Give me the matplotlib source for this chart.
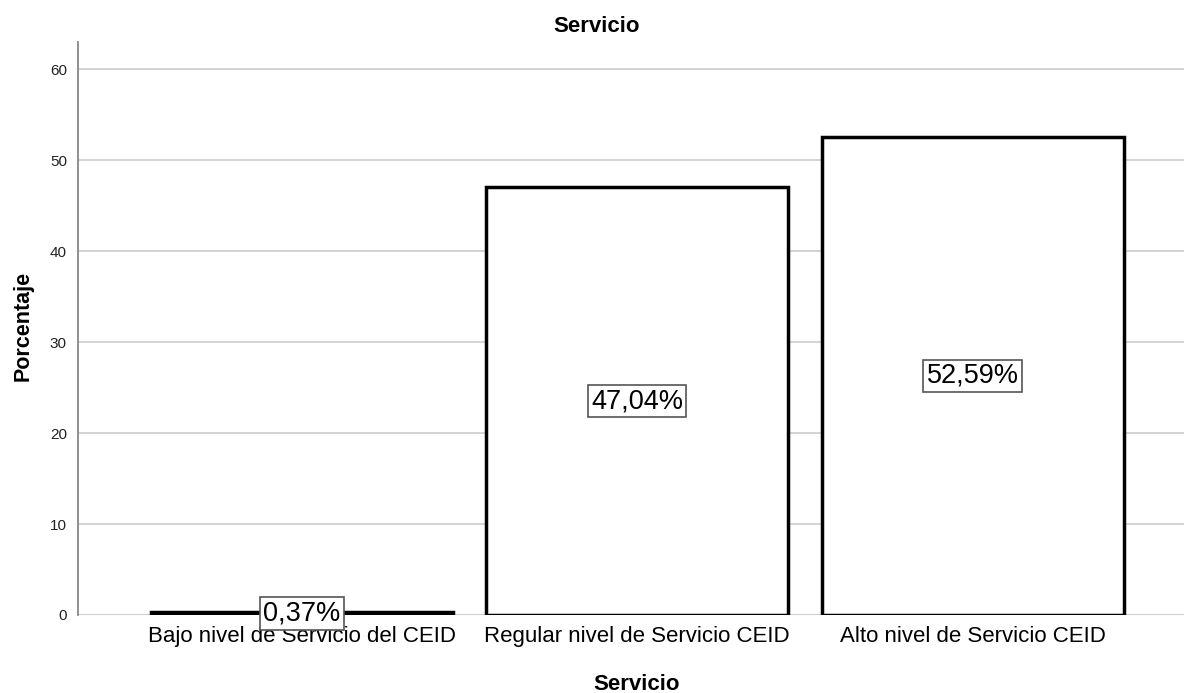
import numpy as np
import matplotlib.pyplot as plt

# Porcentajes por nivel de servicio
categorias = ['Bajo nivel de Servicio del CEID', 'Regular nivel de Servicio CEID', 'Alto nivel de Servicio CEID']
porcentajes = [0.37, 47.04, 52.59]
etiquetas = ['0,37%', '47,04%', '52,59%']

plt.rcParams['font.family'] = ['Liberation Sans', 'DejaVu Sans']

W, H = 1184, 693
fig = plt.figure(figsize=(W / 100, H / 100), dpi=100)
ax = fig.add_axes([78 / W, 1 - 615 / H, 1 - 78 / W, (615 - 42) / H])

x = np.arange(len(categorias))
ax.bar(x, porcentajes, width=0.9, facecolor='white', edgecolor='black', linewidth=2.5, zorder=3)

# Etiquetas de valor en el centro de cada barra
for xi, v, txt in zip(x, porcentajes, etiquetas):
    ax.text(xi, v / 2, txt, ha='center', va='center', fontsize=19.5, zorder=4,
            bbox=dict(boxstyle='square,pad=0.12', facecolor='white', edgecolor='#555555', linewidth=1.2))

ax.set_xlim(-0.667, 2.63)
ax.set_ylim(0, 63)
ax.set_yticks([0, 10, 20, 30, 40, 50, 60])
ax.set_xticks(x)
ax.set_xticklabels(categorias, fontsize=16)
ax.tick_params(axis='y', labelsize=11, labelcolor='#222222', length=0, pad=8)
ax.tick_params(axis='x', length=0, pad=8)
ax.yaxis.grid(True, color='#d0d0d0', linewidth=1.3, zorder=0)
ax.axhline(0, color='#444444', linewidth=0.8, zorder=2)

for s in ['top', 'right', 'bottom']:
    ax.spines[s].set_visible(False)
ax.spines['left'].set_color('#888888')
ax.spines['left'].set_linewidth(1.3)

# Titulo y etiquetas de ejes
fig.text(597 / W, 1 - 27 / H, 'Servicio', ha='center', va='center', fontsize=16, fontweight='bold')
fig.text(637 / W, 1 - 684 / H, 'Servicio', ha='center', va='center', fontsize=16, fontweight='bold')
fig.text(23 / W, 1 - 326 / H, 'Porcentaje', ha='center', va='center', rotation=90,
         fontsize=15.5, fontweight='bold')

fig.savefig('out.png', dpi=100)
